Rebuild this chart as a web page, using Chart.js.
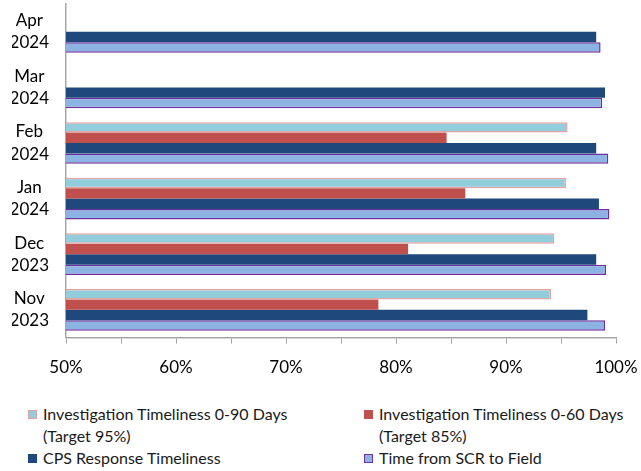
<!DOCTYPE html>
<html>
<head>
<meta charset="utf-8">
<script src="https://cdn.jsdelivr.net/npm/chart.js@4.4.1/dist/chart.umd.min.js"></script>
<style>
  body { margin: 0; background: #fff; font-family: Lato, sans-serif; }
  #wrap { position: relative; width: 641px; height: 471px; }
  #chartBox { position: absolute; left: 0; top: 0; width: 641px; height: 392px; }
  .legend { position: absolute; font-size: 16px; color: #1a1a1a; line-height: 22px; }
  .legend .item { position: absolute; white-space: nowrap; }
  .legend .box { position: absolute; width: 9px; height: 9px; top: 7px; box-sizing: border-box; }
</style>
</head>
<body>
<div id="wrap">
  <div id="chartBox"><canvas id="chart"></canvas></div>
  <div id="legend" class="legend"></div>
</div>
<script>
const months = [['Apr', '2024'], ['Mar', '2024'], ['Feb', '2024'], ['Jan', '2024'], ['Dec', '2023'], ['Nov', '2023']];
const inv90 = [null, null, 95.6, 95.45, 94.4, 94.1];
const inv60 = [null, null, 84.6, 86.3, 81.1, 78.4];
const cpsResponse = [98.2, 99.0, 98.2, 98.45, 98.2, 97.4];
const scrToField = [98.6, 98.75, 99.3, 99.4, 99.1, 99.0];
const xTicks = [50, 60, 70, 80, 90, 100];

const seriesNames = [
  ['Investigation Timeliness 0-90 Days', '(Target 95%)'],
  ['Investigation Timeliness 0-60 Days', '(Target 85%)'],
  ['CPS Response Timeliness'],
  ['Time from SCR to Field']
];
const fills = ['#92CDDC', '#C0504D', '#1F497D', '#8DB3E2'];
const borders = ['#E3A3A3', '#C0504D', '#1F497D', '#7030A0'];

const datasets = [inv90, inv60, cpsResponse, scrToField].map((d, i) => ({
  label: seriesNames[i].join(' '),
  data: d,
  backgroundColor: fills[i],
  borderColor: borders[i],
  borderWidth: (i === 0 || i === 3) ? 1.5 : 0,
  borderSkipped: false,
  categoryPercentage: 0.75,
  barPercentage: 1.0
}));

new Chart(document.getElementById('chart'), {
  type: 'bar',
  data: { labels: months, datasets: datasets },
  options: {
    indexAxis: 'y',
    responsive: true,
    maintainAspectRatio: false,
    animation: false,
    layout: { padding: { top: 4, left: 12, right: 25, bottom: 0 } },
    plugins: { legend: { display: false }, tooltip: { enabled: false } },
    scales: {
      x: {
        min: 50,
        max: 100,
        ticks: {
          stepSize: 5,
          autoSkip: false,
          maxRotation: 0,
          padding: 14,
          color: '#000',
          font: { family: 'Lato', size: 17 },
          callback: (v) => xTicks.includes(v) ? v + '%' : ''
        },
        grid: { drawOnChartArea: false, drawTicks: true, tickLength: 6, color: '#A6A6A6', lineWidth: 1 },
        border: { color: '#A6A6A6', width: 1.5 },
        afterFit: (s) => { s.paddingLeft = 0; s.paddingRight = 0; }
      },
      y: {
        ticks: {
          crossAlign: 'center',
          padding: 17,
          color: '#000',
          font: { family: 'Lato', size: 17, lineHeight: 1.3 }
        },
        grid: { display: false, drawTicks: false },
        border: { color: '#A6A6A6', width: 1.5 },
        afterFit: (s) => { s.width = 54; s.paddingTop = 0; s.paddingBottom = 0; }
      }
    }
  }
});

// HTML legend in two columns, like the original
const legendPos = [[28, 403], [364, 403], [28, 447], [364, 447]];
const legendEl = document.getElementById('legend');
seriesNames.forEach((name, i) => {
  const item = document.createElement('div');
  item.className = 'item';
  item.style.left = legendPos[i][0] + 'px';
  item.style.top = legendPos[i][1] + 'px';
  const box = document.createElement('span');
  box.className = 'box';
  box.style.background = fills[i];
  box.style.border = (i === 0 || i === 3) ? '1.5px solid ' + borders[i] : 'none';
  item.appendChild(box);
  const txt = document.createElement('div');
  txt.style.marginLeft = '15px';
  txt.innerHTML = name.join('<br>');
  item.appendChild(txt);
  legendEl.appendChild(item);
});
</script>
</body>
</html>
